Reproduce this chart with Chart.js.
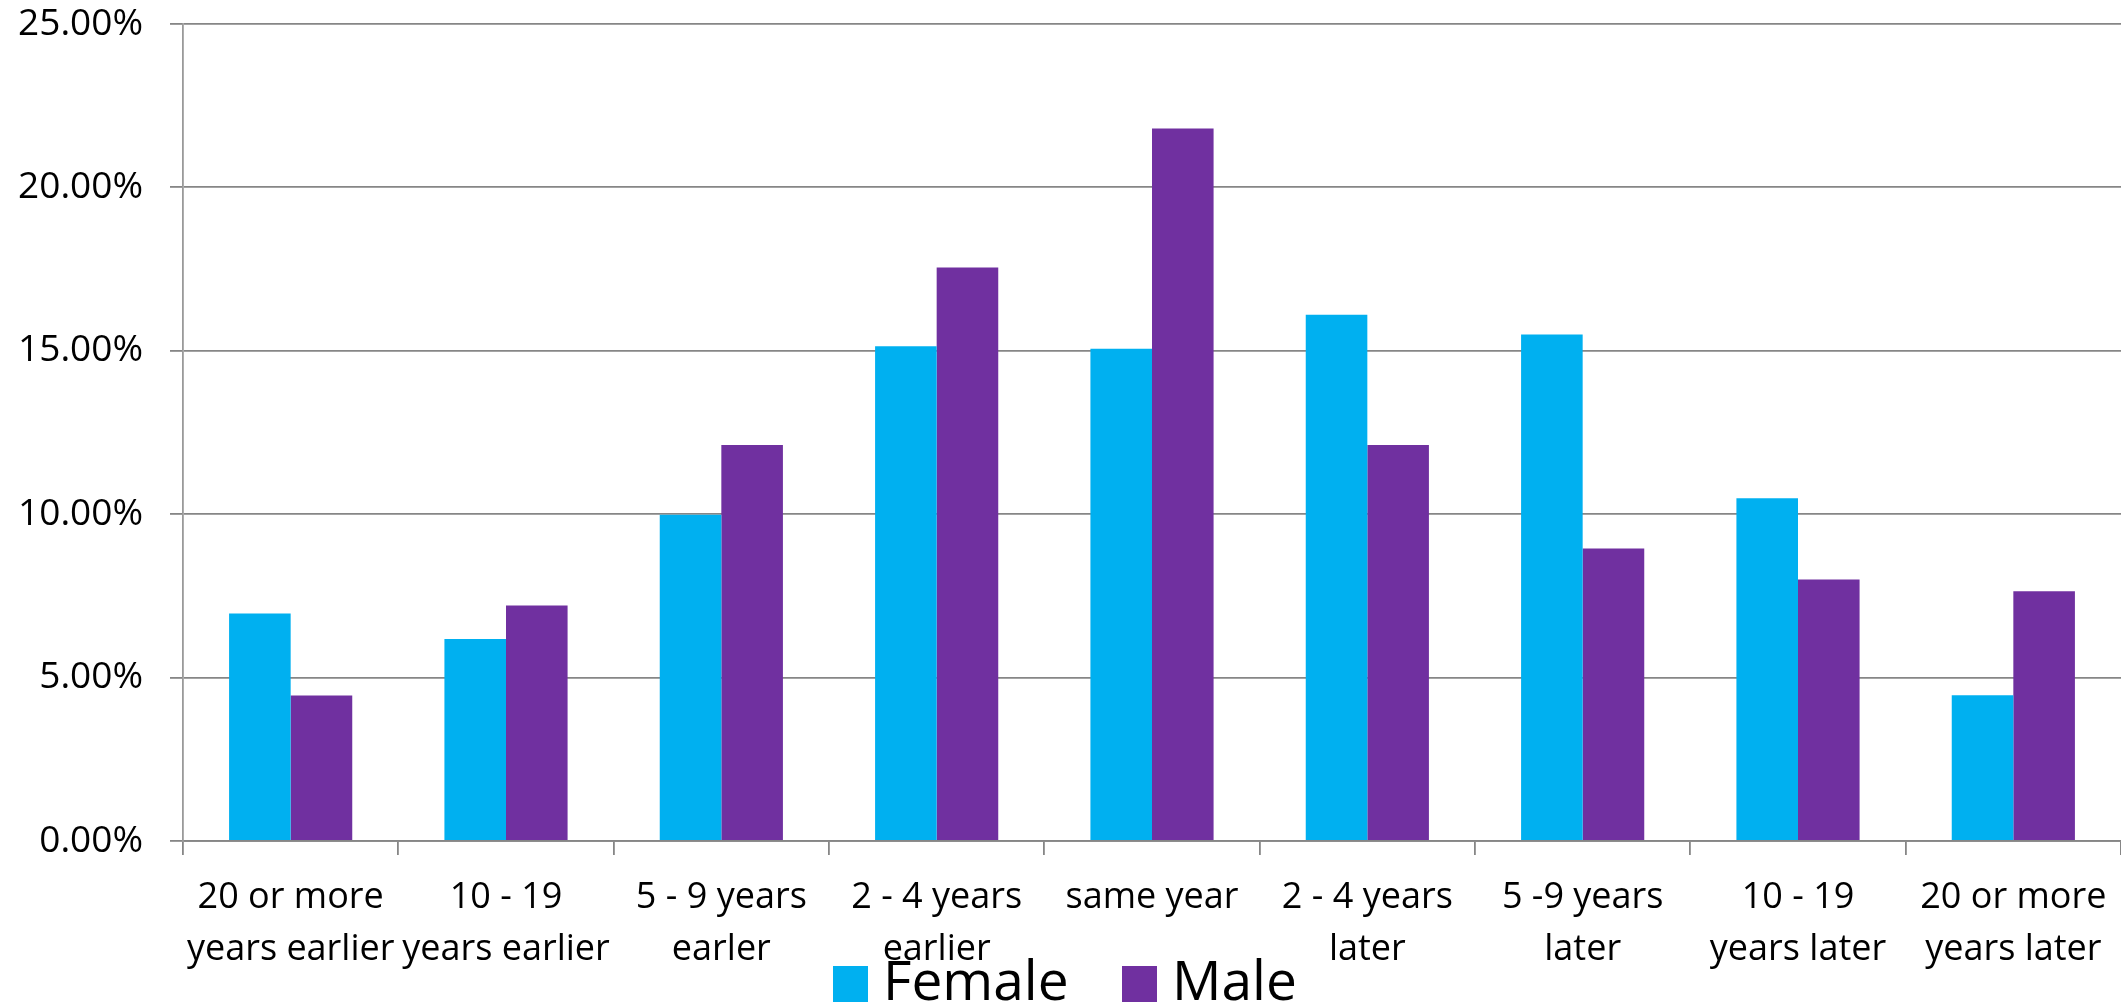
<!DOCTYPE html>
<html>
<head>
<meta charset="utf-8">
<title>Female and Male</title>
<script src="https://cdn.jsdelivr.net/npm/chart.js@4.4.1/dist/chart.umd.min.js"></script>
<style>
  html, body { margin: 0; padding: 0; background: #ffffff; }
  #wrap { position: relative; width: 2121px; height: 1008px; }
  #legend { position: absolute; left: 0; top: 0; width: 2121px; height: 1008px; pointer-events: none;
            font-family: "Open Sans", Lato, sans-serif; font-size: 55px; color: #000; }
  .lg-box { position: absolute; width: 35px; height: 36px; }
  .lg-text { position: absolute; line-height: 1; white-space: nowrap; }
</style>
</head>
<body>
<div id="wrap">
  <canvas id="chart"></canvas>
  <div id="legend"></div>
</div>
<script>
// Categories (two-line axis labels)
const categories = [
  ["20 or more", "years earlier"],
  ["10 - 19", "years earlier"],
  ["5 - 9 years", "earler"],
  ["2 - 4 years", "earlier"],
  ["same year", ""],
  ["2 - 4 years", "later"],
  ["5 -9 years", "later"],
  ["10 - 19", "years later"],
  ["20 or more", "years later"]
];

// Percentages per category
const femaleValues = [6.96, 6.18, 9.98, 15.14, 15.06, 16.10, 15.50, 10.49, 4.46];
const maleValues   = [4.45, 7.21, 12.12, 17.55, 21.80, 12.12, 8.95, 8.00, 7.64];

// Y-axis ticks
const yTicks = [0, 5, 10, 15, 20, 25];

const seriesNames = ["Female", "Male"];
const seriesColors = ["#00B0F0", "#7030A0"];

const gridColor = "#868686";
const fontFamily = "'Open Sans', Lato, sans-serif";

new Chart(document.getElementById("chart"), {
  type: "bar",
  data: {
    labels: categories,
    datasets: [
      { label: seriesNames[0], data: femaleValues, backgroundColor: seriesColors[0], borderWidth: 0 },
      { label: seriesNames[1], data: maleValues, backgroundColor: seriesColors[1], borderWidth: 0 }
    ]
  },
  options: {
    responsive: true,
    maintainAspectRatio: false,
    animation: false,
    layout: { padding: { top: 24, right: 0, bottom: 0, left: 0 } },
    datasets: { bar: { categoryPercentage: 0.572, barPercentage: 1.0 } },
    plugins: {
      legend: { display: false },
      tooltip: { enabled: false }
    },
    scales: {
      x: {
        grid: {
          display: true,
          offset: true,
          drawOnChartArea: false,
          drawTicks: true,
          tickLength: 14,
          color: gridColor,
          lineWidth: 1.8
        },
        border: { display: true, color: gridColor, width: 1.8 },
        ticks: {
          autoSkip: false,
          maxRotation: 0,
          minRotation: 0,
          padding: 17,
          color: "#000000",
          font: { family: fontFamily, size: 36, lineHeight: 1.436 }
        },
        afterFit: (scale) => {
          scale.height = 167;
          scale.paddingLeft = 0;
          scale.paddingRight = 0;
        }
      },
      y: {
        min: 0,
        max: 25,
        afterBuildTicks: (scale) => { scale.ticks = yTicks.map(v => ({ value: v })); },
        grid: {
          color: gridColor,
          lineWidth: 1.8,
          drawTicks: true,
          tickLength: 13
        },
        border: { display: true, color: "#9a9a9a", width: 1.8 },
        ticks: {
          padding: 27,
          color: "#000000",
          font: { family: fontFamily, size: 37 },
          callback: (v) => Number(v).toFixed(2) + "%"
        },
        afterFit: (scale) => {
          scale.width = 183;
          scale.paddingTop = 0;
          scale.paddingBottom = 0;
        }
      }
    }
  }
});

// Legend below the axis labels
const legendEl = document.getElementById("legend");
const legendItems = [
  { boxLeft: 833, textLeft: 883 },
  { boxLeft: 1122, textLeft: 1172 }
];
seriesNames.forEach((name, i) => {
  const box = document.createElement("div");
  box.className = "lg-box";
  box.style.left = legendItems[i].boxLeft + "px";
  box.style.top = "966px";
  box.style.background = seriesColors[i];
  legendEl.appendChild(box);
  const txt = document.createElement("div");
  txt.className = "lg-text";
  txt.style.left = legendItems[i].textLeft + "px";
  txt.style.top = "951px";
  txt.textContent = name;
  legendEl.appendChild(txt);
});
</script>
</body>
</html>
